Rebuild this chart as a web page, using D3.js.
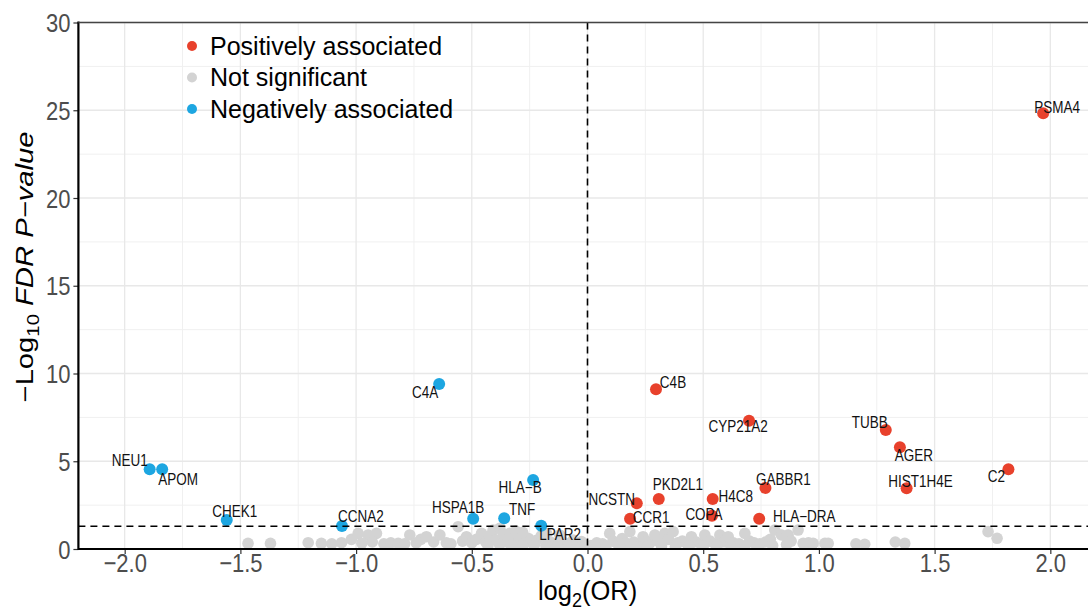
<!DOCTYPE html>
<html><head><meta charset="utf-8">
<script src="https://cdn.jsdelivr.net/npm/d3@7"></script>
<style>
body{margin:0;background:#fff}
svg{display:block}
text{font-family:"Liberation Sans",Arial,Helvetica,sans-serif}
</style>
</head><body>
<svg id="chart" width="1088" height="610"></svg>
<script>
// ---------------- DATA ----------------
const posGenes   = ["PSMA4","C4B","CYP21A2","TUBB","AGER","C2","HIST1H4E","GABBR1","H4C8","PKD2L1","NCSTN","CCR1","COPA","HLA\u2212DRA"];
const posLog2OR  = [1.969, 0.296, 0.698, 1.289, 1.350, 1.819, 1.379, 0.769, 0.541, 0.308, 0.213, 0.184, 0.538, 0.742];
const posLogFDR  = [24.83, 9.10, 7.31, 6.78, 5.80, 4.54, 3.46, 3.48, 2.85, 2.85, 2.60, 1.73, 1.90, 1.73];

const negGenes   = ["C4A","NEU1","APOM","HLA\u2212B","CHEK1","CCNA2","HSPA1B","TNF","LPAR2"];
const negLog2OR  = [-0.641, -1.892, -1.838, -0.235, -1.559, -1.061, -0.494, -0.360, -0.200];
const negLogFDR  = [9.40, 4.54, 4.54, 3.93, 1.65, 1.31, 1.73, 1.75, 1.33];

const greyLog2OR = [-1.467,-1.370,-1.207,-1.150,-1.105,-1.063,-1.020,-0.991,-0.948,-0.912,-0.975,-0.930,-0.880,-0.850,-0.818,-0.790,-0.768,-0.740,-0.720,-0.696,-0.665,-0.638,-0.610,-0.590,-0.559,-0.540,-0.523,-0.500,-0.480,-0.458,-0.440,-0.425,-0.408,-0.395,-0.379,-0.365,-0.350,-0.336,-0.320,-0.305,-0.293,-0.275,-0.255,-0.240,-0.220,-0.200,-0.177,-0.160,-0.145,-0.120,-0.100,-0.080,-0.062,-0.045,-0.026,-0.010,
  -0.430,-0.380,-0.330,-0.280,-0.230,-0.180,-0.130,-0.060,-0.310,-0.280,
  0.015,0.040,0.065,0.096,0.110,0.130,0.150,0.165,0.183,0.200,0.220,0.240,0.255,0.270,0.291,0.310,0.334,0.350,0.370,0.390,0.410,0.430,0.449,0.470,0.490,0.507,0.530,0.550,0.572,0.590,0.608,0.630,0.655,0.680,0.700,0.720,0.745,0.770,0.790,0.809,0.838,0.860,0.867,0.880,0.910,0.932,0.955,0.975,1.026,1.040,1.160,1.198,1.330,1.371,1.731,1.770,
  0.030,0.080,0.140,0.200,0.260,0.320,0.380,0.440,0.500,0.560,0.620,0.680,0.740,0.800,0.860];
const greyLogFDR = [0.32,0.32,0.36,0.32,0.30,0.36,0.55,0.89,0.80,0.89,0.33,0.40,0.30,0.35,0.32,0.30,0.80,0.35,0.55,0.70,0.40,0.80,0.35,0.30,1.27,0.45,0.70,0.35,0.55,0.89,0.40,0.75,1.08,0.50,1.18,0.85,0.40,0.89,0.60,0.35,0.70,0.45,0.60,0.35,0.50,0.75,0.89,0.40,0.30,0.80,0.35,0.25,0.51,0.20,0.42,0.15,
  0.20,0.25,0.22,0.18,0.22,0.20,0.18,0.15,1.02,0.95,
  0.20,0.35,0.30,0.89,0.45,0.30,0.60,0.35,0.99,0.40,0.30,0.70,0.45,0.35,0.80,0.40,0.89,0.55,0.99,0.35,0.45,0.30,0.70,0.40,0.30,0.80,0.45,0.30,0.80,0.40,0.70,0.35,0.30,0.89,0.45,0.35,0.30,0.40,0.55,1.08,0.80,0.70,0.80,0.45,1.08,0.32,0.35,0.32,0.32,0.32,0.30,0.27,0.40,0.32,0.99,0.61,
  0.15,0.18,0.15,0.18,0.15,0.18,0.15,0.18,0.15,0.18,0.15,0.18,0.15,0.20,0.25];

const xTickValues = [-2.0,-1.5,-1.0,-0.5,0.0,0.5,1.0,1.5,2.0];
const yTickValues = [0,5,10,15,20,25,30];
const legendLabels = ["Positively associated","Not significant","Negatively associated"];
const fdrCutoff = 1.30;   // -log10(0.05)
const orCutoff = 0;

// ---------------- LAYOUT / STYLE ----------------
const COL_POS = "#E8412C", COL_NEG = "#1DA6E1", COL_NS = "#D3D3D3";
const STRETCH = 1.17; // glyphs in the reference are slightly tall
const labelNudge = { // pixel offsets of repelled labels (layout only)
  "PSMA4":[14,-6],"C4B":[17,-7],"CYP21A2":[-11,6],"TUBB":[-16,-8],"AGER":[14,8],"C2":[-12,7],
  "HIST1H4E":[14,-7],"GABBR1":[18,-9],"H4C8":[23,-3],"PKD2L1":[19,-15],"NCSTN":[-25,-4],
  "CCR1":[21,-1],"COPA":[-8,-1],"HLA\u2212DRA":[45,-2],
  "C4A":[-14,8],"NEU1":[-20,-9],"APOM":[16,10],"HLA\u2212B":[-13,7],"CHEK1":[8,-9],
  "CCNA2":[19,-10],"HSPA1B":[-15,-11],"TNF":[18,-9],"LPAR2":[19,9]
};

const svg = d3.select("#chart");
const L = 78.4, T = 22.5, B = 549;
const x = d3.scaleLinear().domain([-2.2, 2.2]).range([L, 1096.6]);
const y = d3.scaleLinear().domain([0, 30]).range([B, T]);
const R = 1088;

svg.append("defs").append("clipPath").attr("id","panel")
  .append("rect").attr("x",L).attr("y",T).attr("width",R-L).attr("height",B-T);

// grid
const g = svg.append("g");
const xMinor = d3.range(-2.25, 2.26, 0.5);
const yMinor = d3.range(2.5, 30, 5);
g.selectAll(".xm").data(xMinor).join("line").attr("x1",d=>x(d)).attr("x2",d=>x(d)).attr("y1",T).attr("y2",B)
  .attr("stroke","#f0f0f0").attr("stroke-width",1).attr("clip-path","url(#panel)");
g.selectAll(".ym").data(yMinor).join("line").attr("x1",L).attr("x2",R).attr("y1",d=>y(d)).attr("y2",d=>y(d))
  .attr("stroke","#f0f0f0").attr("stroke-width",1);
g.selectAll(".xM").data(xTickValues).join("line").attr("x1",d=>x(d)).attr("x2",d=>x(d)).attr("y1",T).attr("y2",B)
  .attr("stroke","#e8e8e8").attr("stroke-width",1.3);
g.selectAll(".yM").data(yTickValues).join("line").attr("x1",L).attr("x2",R).attr("y1",d=>y(d)).attr("y2",d=>y(d))
  .attr("stroke","#e8e8e8").attr("stroke-width",1.3);

// points
const pts = svg.append("g").attr("clip-path","url(#panel)");
const grey = greyLog2OR.map((v,i)=>({x:v,y:greyLogFDR[i]}));
pts.selectAll(".ns").data(grey).join("circle")
  .attr("cx",d=>x(d.x)).attr("cy",d=>y(d.y)).attr("r",5.8).attr("fill",COL_NS);

// threshold lines
svg.append("line").attr("x1",L).attr("x2",R).attr("y1",y(fdrCutoff)).attr("y2",y(fdrCutoff))
  .attr("stroke","#000").attr("stroke-width",1.6).attr("stroke-dasharray","7,5");
svg.append("line").attr("x1",x(orCutoff)).attr("x2",x(orCutoff)).attr("y1",T).attr("y2",B)
  .attr("stroke","#000").attr("stroke-width",1.6).attr("stroke-dasharray","7,5");

const pos = posGenes.map((n,i)=>({n, x:posLog2OR[i], y:posLogFDR[i], c:COL_POS}));
const neg = negGenes.map((n,i)=>({n, x:negLog2OR[i], y:negLogFDR[i], c:COL_NEG}));
const sig = pos.concat(neg);
pts.selectAll(".sig").data(sig).join("circle")
  .attr("cx",d=>x(d.x)).attr("cy",d=>y(d.y)).attr("r",6).attr("fill",d=>d.c);

const LBL = 13.5;
svg.append("g").selectAll("text").data(sig).join("text")
  .attr("transform",d=>`translate(${x(d.x)+labelNudge[d.n][0]},${y(d.y)+labelNudge[d.n][1]+0.358*LBL*STRETCH}) scale(1,${STRETCH})`)
  .attr("text-anchor","middle")
  .attr("font-size",LBL).attr("fill","#111").text(d=>d.n);

// axes
const TK = 22;
const xAxis = svg.append("g").attr("transform",`translate(0,${B})`)
  .call(d3.axisBottom(x).tickValues(xTickValues).tickFormat(d3.format(".1f")).tickSize(5));
const yAxis = svg.append("g").attr("transform",`translate(${L},0)`)
  .call(d3.axisLeft(y).tickValues(yTickValues).tickFormat(d3.format("d")).tickSize(5));
[xAxis,yAxis].forEach(a=>{
  a.select(".domain").remove();
  a.selectAll(".tick line").attr("stroke","#333").attr("stroke-width",1.2);
  a.selectAll(".tick text").attr("fill","#4d4d4d").attr("font-size",TK)
    .attr("font-family",'"Liberation Sans",Arial,sans-serif')
    .attr("x",0).attr("y",0).attr("dy",null);
});
xAxis.selectAll(".tick text").attr("transform",`translate(0,22.6) scale(1,${STRETCH})`);
yAxis.selectAll(".tick text").attr("transform",`translate(-8,${0.358*TK*STRETCH}) scale(1,${STRETCH})`);

svg.append("line").attr("x1",L).attr("x2",R).attr("y1",B).attr("y2",B).attr("stroke","#000").attr("stroke-width",2.2);
svg.append("line").attr("x1",L).attr("x2",L).attr("y1",T-1).attr("y2",B+1).attr("stroke","#000").attr("stroke-width",2.2);
svg.append("line").attr("x1",L).attr("x2",R).attr("y1",T).attr("y2",T).attr("stroke","#444").attr("stroke-width",1.4);

// axis titles
const xt = svg.append("text").attr("transform",`translate(${(L+1096.6)/2},600) scale(1,1.1)`).attr("text-anchor","middle")
  .attr("font-size",25.5).attr("fill","#000");
xt.append("tspan").text("log");
xt.append("tspan").attr("font-size",18).attr("dy",6).text("2");
xt.append("tspan").attr("dy",-6).text("(OR)");

const yt = svg.append("text").attr("transform","translate(33,267) rotate(-90) scale(1.27,1)").attr("text-anchor","middle")
  .attr("font-size",23).attr("fill","#000");
yt.append("tspan").text("\u2212Log");
yt.append("tspan").attr("font-size",16).attr("dy",6).text("10");
yt.append("tspan").attr("dy",-6).attr("font-style","italic").text(" FDR P\u2212value");

// legend
const legCols = [COL_POS, COL_NS, COL_NEG];
const LG = 25;
const lg = svg.append("g");
legendLabels.forEach((t,i)=>{
  const yy = 46 + i*31.5;
  lg.append("circle").attr("cx",192).attr("cy",yy).attr("r",5).attr("fill",legCols[i]);
  lg.append("text").attr("x",210).attr("y",yy+0.358*LG)
    .attr("font-size",LG).attr("fill","#000").text(t);
});
</script>
</body></html>
